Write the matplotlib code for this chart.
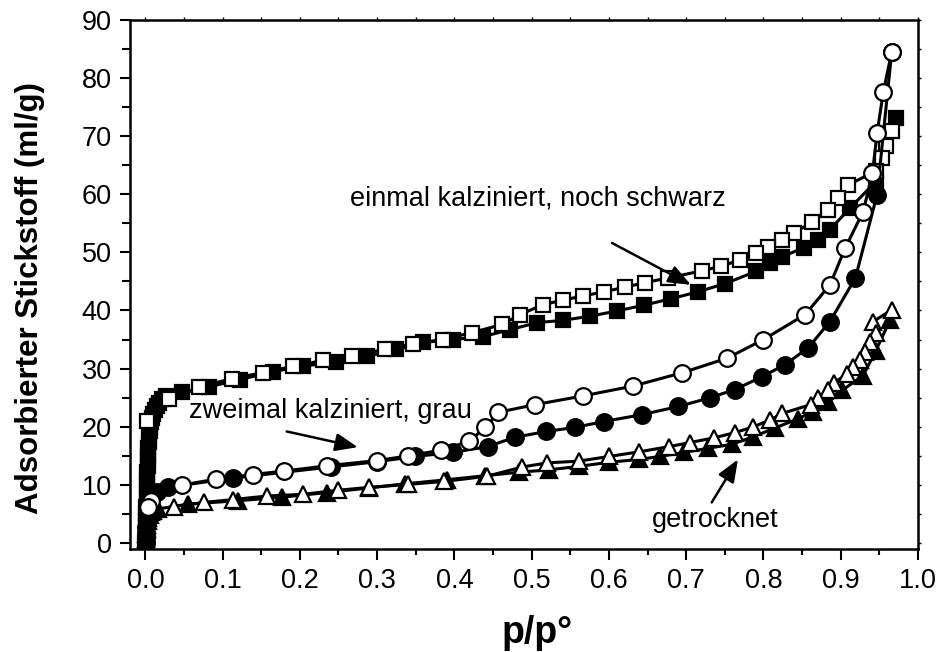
"""Nitrogen adsorption isotherms (p/p° vs. adsorbed volume)."""

import matplotlib

matplotlib.use("Agg")
import matplotlib.pyplot as plt  # noqa: E402

plt.rcParams.update(
    {
        "font.family": ["Liberation Sans", "DejaVu Sans"],
        "font.size": 19.5,
        "axes.linewidth": 1.8,
        "xtick.labelsize": 19.5,
        "ytick.labelsize": 19.5,
    }
)

# einmal kalziniert, noch schwarz
sq_ads_p = [0.0002, 0.0004, 0.0006, 0.0008, 0.001, 0.0012, 0.0014, 0.0016, 0.0018,
            0.002, 0.0023, 0.0026, 0.0029, 0.0032, 0.0036, 0.004, 0.0045, 0.005,
            0.0057, 0.0065, 0.0075, 0.0088, 0.0105, 0.0125, 0.015, 0.018, 0.022,
            0.027, 0.048, 0.083, 0.122, 0.165, 0.204, 0.247, 0.287, 0.325, 0.36,
            0.398, 0.437, 0.472, 0.507, 0.54, 0.575, 0.61, 0.645, 0.68, 0.715,
            0.75, 0.79, 0.809, 0.824, 0.852, 0.871, 0.886, 0.912, 0.945, 0.971]
sq_ads_v = [0.0, 0.8, 1.7, 2.7, 3.8, 5.0, 6.2, 7.4, 8.6, 9.8, 11.0, 12.2, 13.3, 14.4,
            15.4, 16.4, 17.4, 18.3, 19.2, 20.0, 20.8, 21.5, 22.2, 22.9, 23.5, 24.1,
            24.7, 25.3, 25.9, 26.9, 28.1, 29.5, 30.4, 31.2, 32.1, 33.3, 34.5, 35.0,
            35.5, 36.7, 37.9, 38.3, 39.0, 39.9, 40.9, 42.0, 43.2, 44.6, 46.7, 48.2,
            49.2, 50.8, 52.1, 53.9, 57.6, 62.1, 73.0]
sq_des_p = [0.966, 0.959, 0.953, 0.946, 0.91, 0.897, 0.884, 0.863, 0.839, 0.824,
            0.806, 0.79, 0.77, 0.745, 0.72, 0.677, 0.647, 0.621, 0.593, 0.567,
            0.541, 0.515, 0.485, 0.462, 0.423, 0.385, 0.347, 0.31, 0.268, 0.23,
            0.191, 0.152, 0.112, 0.07, 0.031, 0.002]
sq_des_v = [70.8, 68.2, 66.2, 64.0, 61.6, 59.3, 57.3, 55.2, 53.3, 52.1, 50.9, 49.9,
            48.7, 47.6, 46.8, 45.6, 44.8, 44.0, 43.2, 42.5, 41.8, 41.0, 39.3, 37.6,
            36.2, 35.0, 34.3, 33.3, 32.2, 31.4, 30.4, 29.3, 28.3, 26.8, 24.7, 21.0]

# zweimal kalziniert, grau
ci_ads_p = [0.0003, 0.0006, 0.0009, 0.0012, 0.0016, 0.002, 0.0026, 0.0033, 0.0042,
            0.0055, 0.0075, 0.01, 0.015, 0.029, 0.114, 0.24, 0.30, 0.349, 0.398,
            0.443, 0.478, 0.519, 0.556, 0.593, 0.643, 0.69, 0.731, 0.763, 0.798,
            0.828, 0.858, 0.886, 0.919, 0.947, 0.966]
ci_ads_v = [0.0, 0.9, 1.8, 2.7, 3.6, 4.5, 5.4, 6.2, 6.9, 7.5, 8.0, 8.4, 8.8, 9.6,
            11.2, 13.1, 14.0, 14.9, 15.6, 16.6, 18.2, 19.2, 19.9, 20.9, 22.1, 23.5,
            25.0, 26.4, 28.6, 30.7, 33.6, 38.1, 45.6, 59.9, 84.5]
ci_des_p = [0.966, 0.955, 0.947, 0.941, 0.929, 0.906, 0.886, 0.854, 0.80, 0.753,
            0.695, 0.631, 0.566, 0.504, 0.457, 0.44, 0.419, 0.383, 0.34, 0.30,
            0.235, 0.18, 0.139, 0.091, 0.048, 0.008, 0.003]
ci_des_v = [84.5, 77.5, 70.5, 63.6, 57.0, 50.8, 44.4, 39.3, 35.0, 31.8, 29.3, 27.0,
            25.3, 23.8, 22.5, 19.9, 17.5, 16.0, 15.0, 14.2, 13.3, 12.4, 11.8, 11.0,
            10.0, 7.2, 6.2]

# getrocknet
tr_ads_p = [0.0003, 0.0007, 0.0011, 0.0016, 0.0022, 0.003, 0.004, 0.0055, 0.0075,
            0.01, 0.017, 0.055, 0.12, 0.177, 0.235, 0.29, 0.336, 0.39, 0.44, 0.484,
            0.522, 0.561, 0.6, 0.639, 0.666, 0.697, 0.728, 0.759, 0.787, 0.815,
            0.845, 0.864, 0.884, 0.902, 0.929, 0.945, 0.964]
tr_ads_v = [0.0, 0.8, 1.6, 2.4, 3.1, 3.8, 4.4, 4.9, 5.3, 5.6, 5.9, 6.7, 7.3, 7.9,
            8.7, 9.5, 10.2, 10.9, 11.6, 12.2, 12.6, 13.2, 13.9, 14.4, 14.9, 15.6,
            16.3, 17.0, 18.3, 19.8, 21.4, 22.6, 24.2, 26.3, 28.8, 33.0, 38.4]
tr_des_p = [0.966, 0.942, 0.945, 0.938, 0.932, 0.925, 0.916, 0.908, 0.891, 0.884,
            0.870, 0.861, 0.824, 0.809, 0.787, 0.763, 0.736, 0.705, 0.678, 0.639,
            0.60, 0.561, 0.52, 0.488, 0.442, 0.386, 0.34, 0.29, 0.25, 0.204, 0.157,
            0.114, 0.076, 0.037]
tr_des_v = [40.1, 38.1, 36.2, 34.5, 32.8, 31.4, 30.2, 29.0, 27.6, 26.4, 25.0, 23.8,
            22.3, 21.2, 20.0, 19.0, 18.1, 17.3, 16.6, 15.7, 14.9, 14.1, 13.8, 13.1,
            11.5, 10.6, 10.1, 9.6, 9.1, 8.4, 8.1, 7.5, 7.0, 6.3]

fig = plt.figure(figsize=(9.41, 6.52), dpi=100)
ax = fig.add_axes([0.138, 0.158, 0.8376, 0.812])

line_kw = dict(color="black", lw=2.2, mec="black", mew=1.6)
ax.plot(sq_ads_p, sq_ads_v, marker="s", ms=10.5, mfc="black", **line_kw)
ax.plot(sq_des_p, sq_des_v, marker="s", ms=10.5, mfc="white", **line_kw)
ax.plot(tr_ads_p, tr_ads_v, marker="^", ms=11.5, mfc="black", **line_kw)
ax.plot(tr_des_p, tr_des_v, marker="^", ms=11.5, mfc="white", **line_kw)
ax.plot(ci_ads_p, ci_ads_v, marker="o", ms=12, mfc="black", **line_kw)
ax.plot(ci_des_p, ci_des_v, marker="o", ms=12, mfc="white", **line_kw)

ax.set_xlim(-0.02, 1.0)
ax.set_ylim(-1, 90)
ax.set_xticks([i / 10 for i in range(11)])
ax.set_xticks([0.05 + i / 10 for i in range(10)], minor=True)
ax.set_yticks(range(0, 91, 10))
ax.set_yticks(range(5, 90, 10), minor=True)
ax.xaxis.set_major_formatter(matplotlib.ticker.FormatStrFormatter("%.1f"))

ax.tick_params(which="both", direction="out", width=1.5, top=True, right=True,
               labeltop=False, labelright=False)
ax.tick_params(axis="x", which="major", length=8, pad=6)
ax.tick_params(axis="x", which="minor", length=4)
ax.tick_params(axis="y", which="major", length=7, pad=6)
ax.tick_params(axis="y", which="minor", length=6)
# short ticks on the top and right spines
for t in (ax.xaxis.get_major_ticks() + ax.xaxis.get_minor_ticks()
          + ax.yaxis.get_major_ticks() + ax.yaxis.get_minor_ticks()):
    t.tick2line.set_markersize(2)
    t.tick2line.set_markeredgewidth(1)

ax.set_xlabel("p/p°", fontsize=27, fontweight="bold")
ax.xaxis.set_label_coords(0.517, -0.125)
ax.set_ylabel("Adsorbierter Stickstoff (ml/g)", fontsize=22.5, fontweight="bold")
ax.yaxis.set_label_coords(-0.108, 0.474)

arrow = dict(arrowstyle="-|>,head_length=0.7,head_width=0.28", color="black",
             lw=1.8, shrinkA=0, shrinkB=0)
ax.annotate("", xy=(0.706, 44.4), xytext=(0.604, 51.6), arrowprops=arrow)
ax.text(0.265, 59.2, "einmal kalziniert, noch schwarz", ha="left", va="center")
ax.annotate("", xy=(0.275, 16.5), xytext=(0.183, 19.2), arrowprops=arrow)
ax.text(0.057, 22.8, "zweimal kalziniert, grau", ha="left", va="center")
ax.annotate("", xy=(0.767, 14.4), xytext=(0.733, 7.0), arrowprops=arrow)
ax.text(0.656, 4.0, "getrocknet", ha="left", va="center")

fig.savefig("out.png", dpi=100)
